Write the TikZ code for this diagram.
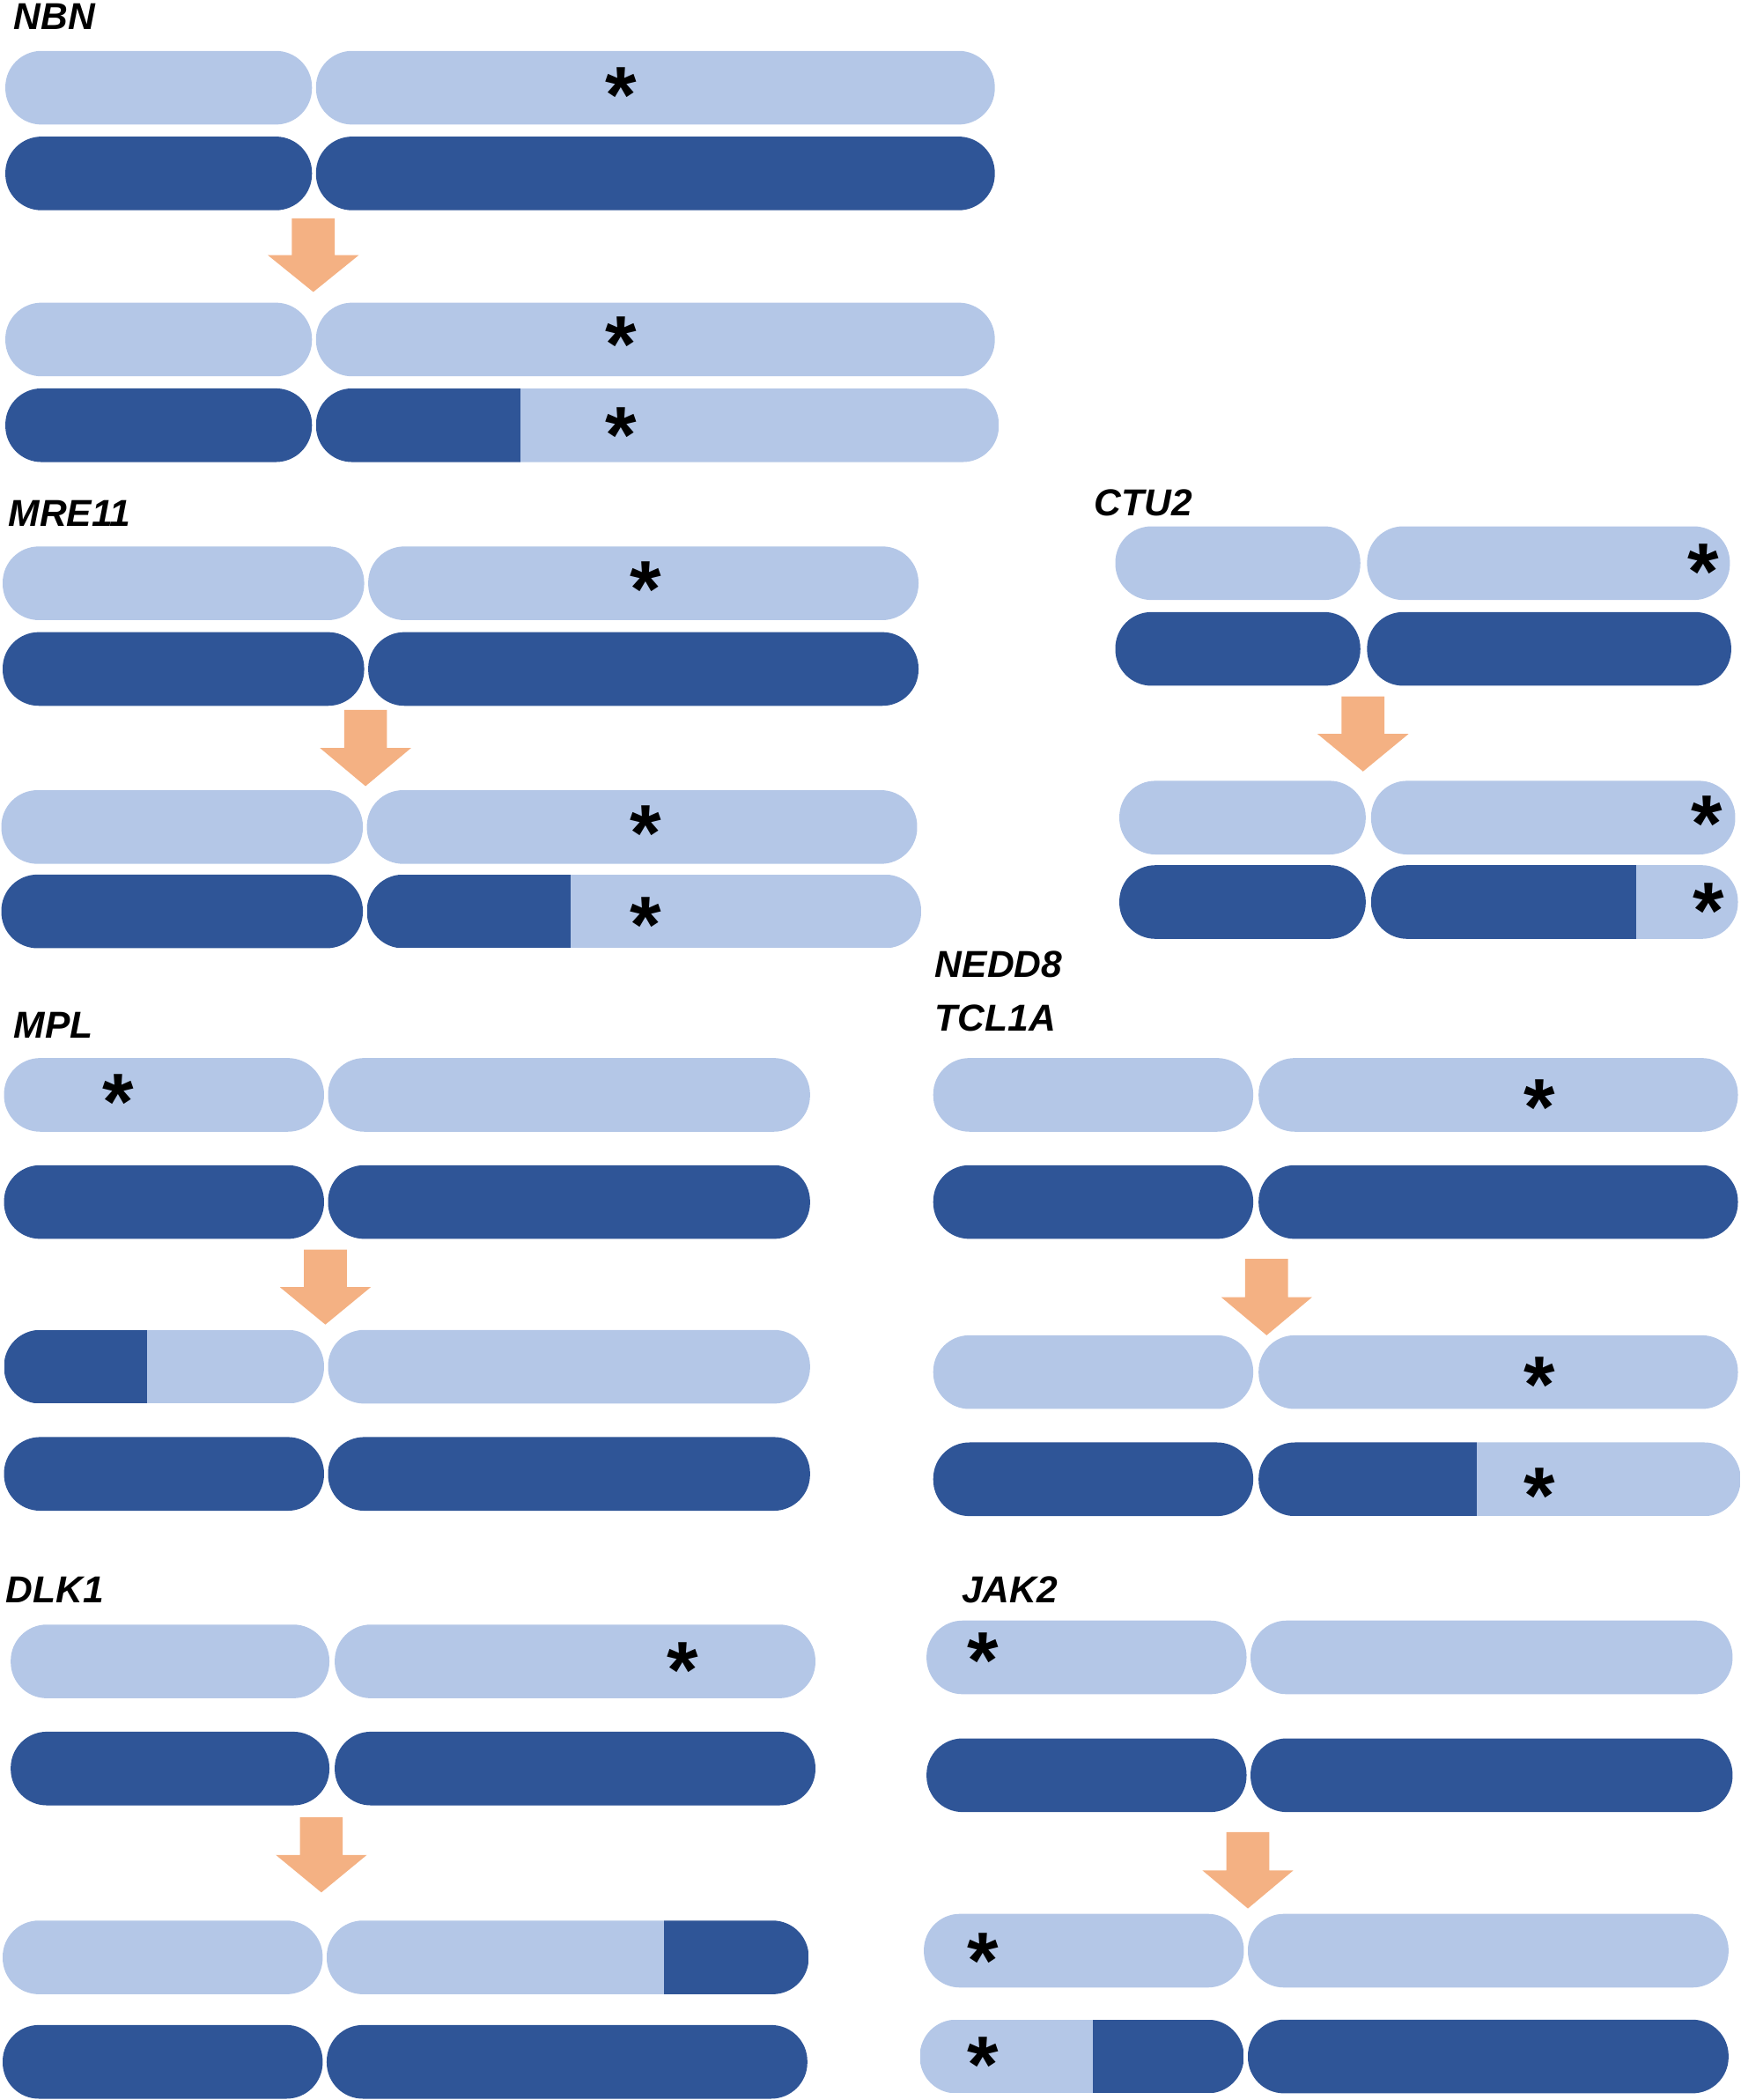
\documentclass[tikz,border=0pt]{standalone}
\usepackage{fontspec}
\setmainfont{Liberation Sans}
\definecolor{lb}{HTML}{B4C7E7}
\definecolor{db}{HTML}{2F5597}
\definecolor{ar}{HTML}{F4B183}
\newcommand\chr[5]{\fill[#5,rounded corners=13.5pt] (#1,#3) rectangle (#2,#4);}
\newcommand\chrs[7]{\begin{scope}\clip[rounded corners=13.5pt] (#1,#4) rectangle (#2,#5);
\fill[#6] (#1,#4) rectangle (#3,#5);\fill[#7] (#3,#4) rectangle (#2,#5);\end{scope}}
\newcommand\arw[3]{\fill[ar] ({#1-16},#2)--({#1+16},#2)--({#1+16},{(#2+#3)/2})--({#1+34},{(#2+#3)/2})--(#1,#3)--({#1-34},{(#2+#3)/2})--({#1-16},{(#2+#3)/2})--cycle;}
\newcommand\st[2]{\node[font=\bfseries\fontsize{30}{30}\selectfont,inner sep=0pt] at (#1,{#2+7}) {*};}
\tikzset{lab/.style={anchor=base west,inner sep=0pt,font=\bfseries\itshape\fontsize{14}{14}\selectfont}}
\begin{document}
\begin{tikzpicture}[x=0.5pt,y=-0.5pt]
\useasboundingbox (0,0) rectangle (1300,1568);
% NBN
\node[lab] (nbn) at (10,22) {NBN};
\chr{4}{233}{38}{93}{lb}\chr{236}{743}{38}{93}{lb}\st{464}{64}
\chr{4}{233}{102}{157}{db}\chr{236}{743}{102}{157}{db}
\arw{234}{163}{218}
\chr{4}{233}{226}{281}{lb}\chr{236}{743}{226}{281}{lb}\st{464}{250}
\chr{4}{233}{290}{345}{db}\chrs{236}{746}{389}{290}{345}{db}{lb}\st{464}{318}
% MRE11
\node[lab] (mre) at (6,393) {MRE11};
\chr{2}{272}{408}{463}{lb}\chr{275}{686}{408}{463}{lb}\st{482}{433}
\chr{2}{272}{472}{527}{db}\chr{275}{686}{472}{527}{db}
\arw{273}{530}{587}
\chr{1}{271}{590}{645}{lb}\chr{274}{685}{590}{645}{lb}\st{482}{615}
\chr{1}{271}{653}{708}{db}\chrs{274}{688}{426}{653}{708}{db}{lb}\st{482}{684}
% CTU2
\node[lab] (ctu) at (817,385) {CTU2};
\chr{833}{1016}{393}{448}{lb}\chr{1021}{1292}{393}{448}{lb}\st{1272}{420}
\chr{833}{1016}{457}{512}{db}\chr{1021}{1293}{457}{512}{db}
\arw{1018}{520}{576}
\chr{836}{1020}{583}{638}{lb}\chr{1024}{1296}{583}{638}{lb}\st{1275}{608}
\chr{836}{1020}{646}{701}{db}\chrs{1024}{1298}{1222}{646}{701}{db}{lb}\st{1276}{673}
% NEDD8 TCL1A
\node[lab] (ned) at (698,730) {NEDD8};
\node[lab] (tcl) at (698,770) {TCL1A};
\chr{697}{936}{790}{845}{lb}\chr{940}{1298}{790}{845}{lb}\st{1150}{820}
\chr{697}{936}{870}{925}{db}\chr{940}{1298}{870}{925}{db}
\arw{946}{940}{997}
\chr{697}{936}{997}{1052}{lb}\chr{940}{1298}{997}{1052}{lb}\st{1150}{1027}
\chr{697}{936}{1077}{1132}{db}\chrs{940}{1300}{1103}{1077}{1132}{db}{lb}\st{1150}{1110}
% MPL
\node[lab] (mpl) at (10,775) {MPL};
\chr{3}{242}{790}{845}{lb}\chr{245}{605}{790}{845}{lb}\st{88}{816}
\chr{3}{242}{870}{925}{db}\chr{245}{605}{870}{925}{db}
\arw{243}{933}{989}
\chrs{3}{242}{110}{993}{1048}{db}{lb}\chr{245}{605}{993}{1048}{lb}
\chr{3}{242}{1073}{1128}{db}\chr{245}{605}{1073}{1128}{db}
% DLK1
\node[lab] (dlk) at (4,1197) {DLK1};
\chr{8}{246}{1213}{1268}{lb}\chr{250}{609}{1213}{1268}{lb}\st{510}{1240}
\chr{8}{246}{1293}{1348}{db}\chr{250}{609}{1293}{1348}{db}
\arw{240}{1357}{1413}
\chr{2}{241}{1434}{1489}{lb}\chrs{244}{604}{496}{1434}{1489}{lb}{db}
\chr{2}{241}{1512}{1567}{db}\chr{244}{603}{1512}{1567}{db}
% JAK2
\node[lab] (jak) at (718,1197) {JAK2};
\chr{692}{931}{1210}{1265}{lb}\chr{934}{1294}{1210}{1265}{lb}\st{734}{1233}
\chr{692}{931}{1298}{1353}{db}\chr{934}{1294}{1298}{1353}{db}
\arw{932}{1368}{1425}
\chr{690}{929}{1429}{1484}{lb}\chr{932}{1291}{1429}{1484}{lb}\st{734}{1457}
\chrs{687}{929}{816}{1508}{1563}{lb}{db}\chr{932}{1291}{1508}{1563}{db}\st{734}{1535}
\end{tikzpicture}
\end{document}
